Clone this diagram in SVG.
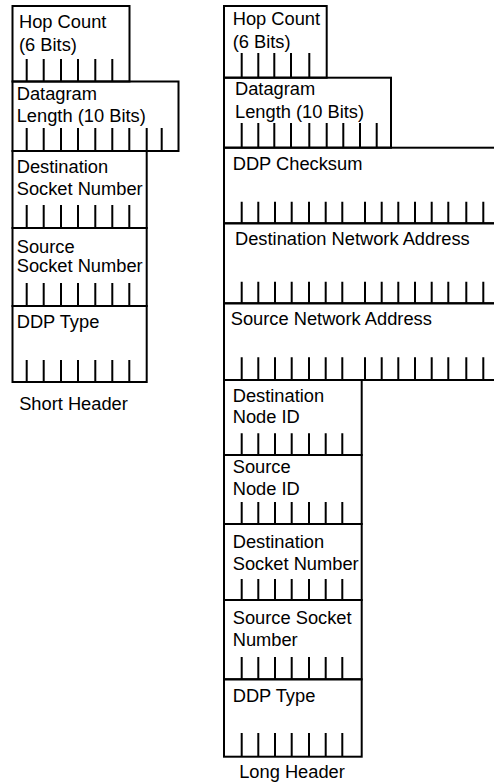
<svg xmlns="http://www.w3.org/2000/svg" width="494" height="784" viewBox="0 0 494 784">
<style>
.box{fill:none;stroke:#000;stroke-width:2}
.tick{fill:none;stroke:#000;stroke-width:2}
text{font-family:"Liberation Sans",Arial,sans-serif;font-size:18.3px;fill:#000}
.cap{text-anchor:middle}
</style>
<rect width="494" height="784" fill="#fff"/>
<g id="short-header">
<g id="short-hop-count">
<rect class="box" x="12.5" y="6" width="117" height="75.5"/>
<text x="19" y="28">Hop Count</text>
<text x="19" y="50.5">(6 Bits)</text>
<path class="tick" d="M26.7 59V81.5M43.7 59V81.5M61 59V81.5M78 59V81.5M95.3 59V81.5M112.3 59V81.5"/>
</g>
<g id="short-datagram-length">
<rect class="box" x="12.5" y="81.5" width="166" height="69.5"/>
<text x="16.7" y="99.5">Datagram</text>
<text x="16.7" y="121.7">Length (10 Bits)</text>
<path class="tick" d="M26.7 128V151M43.7 128V151M61 128V151M78 128V151M95.3 128V151M112.3 128V151M129.3 128V151M146.7 128V151M161.7 128V151"/>
</g>
<g id="short-destination-socket">
<rect class="box" x="12.5" y="151" width="134.2" height="77"/>
<text x="16.7" y="173.3">Destination</text>
<text x="16.7" y="195">Socket Number</text>
<path class="tick" d="M26.7 205V228M43.7 205V228M61 205V228M78 205V228M95.3 205V228M112.3 205V228M129.3 205V228"/>
</g>
<g id="short-source-socket">
<rect class="box" x="12.5" y="228" width="134.2" height="78"/>
<text x="16.7" y="252.7">Source</text>
<text x="16.7" y="271.7">Socket Number</text>
<path class="tick" d="M26.7 283V306M43.7 283V306M61 283V306M78 283V306M95.3 283V306M112.3 283V306M129.3 283V306"/>
</g>
<g id="short-ddp-type">
<rect class="box" x="12.5" y="306" width="134.2" height="76"/>
<text x="16.7" y="328">DDP Type</text>
<path class="tick" d="M26.7 360V382M43.7 360V382M61 360V382M78 360V382M95.3 360V382M112.3 360V382M129.3 360V382"/>
</g>
<text class="cap" x="73.5" y="410">Short Header</text>
</g>
<g id="long-header">
<g id="long-hop-count">
<rect class="box" x="224" y="6" width="102.7" height="71.7"/>
<text x="232.7" y="25">Hop Count</text>
<text x="232.7" y="48">(6 Bits)</text>
<path class="tick" d="M241.7 53V77.7M258.3 53V77.7M274.3 53V77.7M291 53V77.7M309.3 53V77.7"/>
</g>
<g id="long-datagram-length">
<rect class="box" x="224" y="77.7" width="167" height="70"/>
<text x="235" y="95">Datagram</text>
<text x="235" y="118">Length (10 Bits)</text>
<path class="tick" d="M241.7 123V147.7M258.3 123V147.7M274.3 123V147.7M291 123V147.7M309.3 123V147.7M326.7 123V147.7M343.3 123V147.7M360 123V147.7M376.7 123V147.7"/>
</g>
<g id="long-ddp-checksum">
<rect class="box" x="224" y="147.7" width="290" height="75.6"/>
<text x="232.7" y="170">DDP Checksum</text>
<path class="tick" d="M241.7 201.7V223.3M258.3 201.7V223.3M275 201.7V223.3M291.7 201.7V223.3M309 201.7V223.3M325.7 201.7V223.3M342.3 201.7V223.3M365 201.7V223.3M381.7 201.7V223.3M398.3 201.7V223.3M415 201.7V223.3M431.7 201.7V223.3M448.3 201.7V223.3M466.3 201.7V223.3M483.3 201.7V223.3"/>
</g>
<g id="long-destination-network">
<rect class="box" x="224" y="223.3" width="290" height="80"/>
<text x="235" y="245">Destination Network Address</text>
<path class="tick" d="M241.7 281.7V303.3M258.3 281.7V303.3M275 281.7V303.3M291.7 281.7V303.3M309 281.7V303.3M325.7 281.7V303.3M342.3 281.7V303.3M365 281.7V303.3M381.7 281.7V303.3M398.3 281.7V303.3M415 281.7V303.3M431.7 281.7V303.3M448.3 281.7V303.3M466.3 281.7V303.3M483.3 281.7V303.3"/>
</g>
<g id="long-source-network">
<rect class="box" x="224" y="303.3" width="290" height="76.7"/>
<text x="230.7" y="325">Source Network Address</text>
<path class="tick" d="M241.7 357.3V380M258.3 357.3V380M275 357.3V380M291.7 357.3V380M309 357.3V380M325.7 357.3V380M342.3 357.3V380M365 357.3V380M381.7 357.3V380M398.3 357.3V380M415 357.3V380M431.7 357.3V380M448.3 357.3V380M466.3 357.3V380M483.3 357.3V380"/>
</g>
<g id="long-destination-node">
<rect class="box" x="224" y="380" width="137.7" height="75"/>
<text x="232.7" y="401.7">Destination</text>
<text x="232.7" y="423.3">Node ID</text>
<path class="tick" d="M241.7 433.3V455M258.3 433.3V455M275 433.3V455M291.7 433.3V455M309 433.3V455M325.7 433.3V455M342.3 433.3V455"/>
</g>
<g id="long-source-node">
<rect class="box" x="224" y="455" width="137.7" height="69"/>
<text x="232.7" y="473.3">Source</text>
<text x="232.7" y="495">Node ID</text>
<path class="tick" d="M241.7 502V524M258.3 502V524M275 502V524M291.7 502V524M309 502V524M325.7 502V524M342.3 502V524"/>
</g>
<g id="long-destination-socket">
<rect class="box" x="224" y="524" width="137.7" height="76"/>
<text x="232.7" y="548.3">Destination</text>
<text x="232.7" y="570">Socket Number</text>
<path class="tick" d="M241.7 579V600M258.3 579V600M275 579V600M291.7 579V600M309 579V600M325.7 579V600M342.3 579V600"/>
</g>
<g id="long-source-socket">
<rect class="box" x="224" y="600" width="137.7" height="79.3"/>
<text x="232.7" y="624">Source Socket</text>
<text x="232.7" y="645.5">Number</text>
<path class="tick" d="M241.7 657V679.3M258.3 657V679.3M275 657V679.3M291.7 657V679.3M309 657V679.3M325.7 657V679.3M342.3 657V679.3"/>
</g>
<g id="long-ddp-type">
<rect class="box" x="224" y="679.3" width="137.7" height="77.4"/>
<text x="232.7" y="701.7">DDP Type</text>
<path class="tick" d="M241.7 733V756.7M258.3 733V756.7M275 733V756.7M291.7 733V756.7M309 733V756.7M325.7 733V756.7M342.3 733V756.7"/>
</g>
<text class="cap" x="292" y="778">Long Header</text>
</g>
</svg>
